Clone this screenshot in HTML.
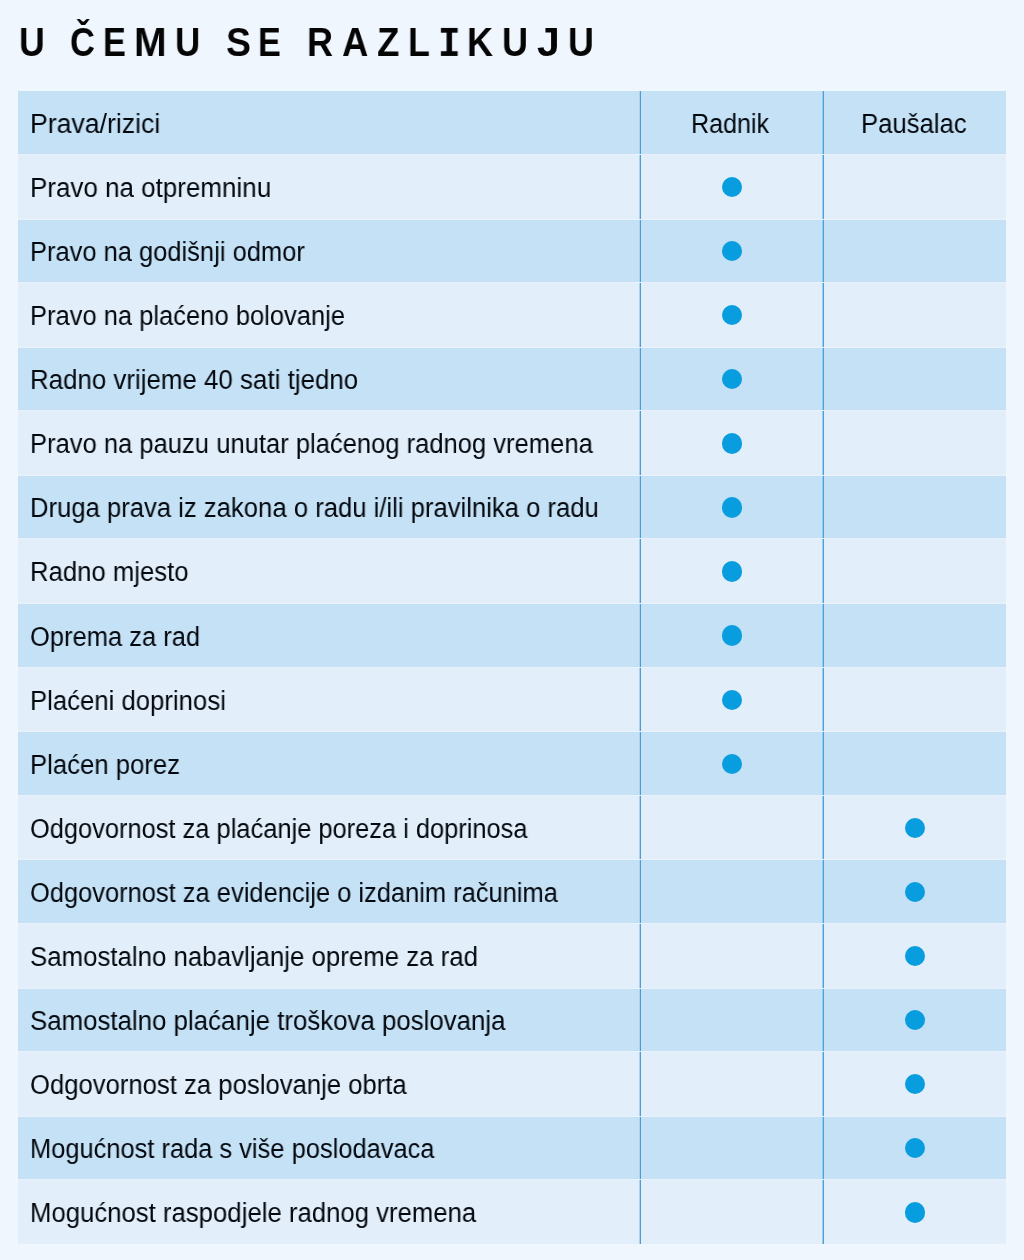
<!DOCTYPE html>
<html><head><meta charset="utf-8"><title>U čemu se razlikuju</title>
<style>
html,body{margin:0;padding:0;}
body{-webkit-font-smoothing:antialiased;width:1024px;height:1260px;overflow:hidden;position:relative;background:#f0f6fe;font-family:"Liberation Sans",sans-serif;color:#03080e;}
.t{position:absolute;will-change:transform;top:0;font-weight:bold;font-size:40.7px;line-height:1;white-space:nowrap;color:#050505;}
.r{position:absolute;left:18px;width:988px;}
.b{background:#c5e1f5;}
.l{background:#e2eef9;}
.x{position:absolute;will-change:transform;white-space:nowrap;font-size:27px;line-height:1;transform-origin:0 0;}
.d{position:absolute;width:20.5px;height:20.5px;border-radius:50%;background:#079dde;}
.v{position:absolute;background:#5ea6d3;}
</style></head><body>

<div class="t" style="left:18.55px;top:21.8px;transform:scaleX(0.876);transform-origin:0 0">U</div>
<div class="t" style="left:69.81px;top:21.8px;transform:scaleX(0.8462);transform-origin:0 0">Č</div>
<div class="t" style="left:102.97px;top:21.8px;transform:scaleX(0.8435);transform-origin:0 0">E</div>
<div class="t" style="left:134.02px;top:21.8px;transform:scaleX(0.9607);transform-origin:0 0">M</div>
<div class="t" style="left:175.48px;top:21.8px;transform:scaleX(0.86);transform-origin:0 0">U</div>
<div class="t" style="left:225.57px;top:21.8px;transform:scaleX(0.9167);transform-origin:0 0">S</div>
<div class="t" style="left:258.18px;top:21.8px;transform:scaleX(0.8391);transform-origin:0 0">E</div>
<div class="t" style="left:307.35px;top:21.8px;transform:scaleX(0.884);transform-origin:0 0">R</div>
<div class="t" style="left:341.9px;top:21.8px;transform:scaleX(0.8963);transform-origin:0 0">A</div>
<div class="t" style="left:377.4px;top:21.8px;transform:scaleX(0.9);transform-origin:0 0">Z</div>
<div class="t" style="left:407.66px;top:21.8px;transform:scaleX(0.881);transform-origin:0 0">L</div>
<div class="t" style="left:438.23px;top:23.8px;font-family:&quot;Liberation Mono&quot;,monospace;transform:scale(0.9222,1.037);transform-origin:0 0">I</div>
<div class="t" style="left:467.15px;top:21.8px;transform:scaleX(0.8846);transform-origin:0 0">K</div>
<div class="t" style="left:502.33px;top:21.8px;transform:scaleX(0.884);transform-origin:0 0">U</div>
<div class="t" style="left:536.99px;top:21.8px;transform:scaleX(1.0053);transform-origin:0 0">J</div>
<div class="t" style="left:568.44px;top:21.8px;transform:scaleX(0.88);transform-origin:0 0">U</div>
<div style="position:absolute;left:18px;width:988px;top:91px;height:1153px;background:#e9f2fb"></div>
<div class="r b" style="top:91.40px;height:62.60px"></div>
<div class="r l" style="top:155.00px;height:63.56px"></div>
<div class="r b" style="top:219.56px;height:62.60px"></div>
<div class="r l" style="top:283.16px;height:63.56px"></div>
<div class="r b" style="top:347.72px;height:62.60px"></div>
<div class="r l" style="top:411.32px;height:63.56px"></div>
<div class="r b" style="top:475.88px;height:62.60px"></div>
<div class="r l" style="top:539.48px;height:63.56px"></div>
<div class="r b" style="top:604.04px;height:62.60px"></div>
<div class="r l" style="top:667.64px;height:63.56px"></div>
<div class="r b" style="top:732.20px;height:62.60px"></div>
<div class="r l" style="top:795.80px;height:63.56px"></div>
<div class="r b" style="top:860.36px;height:62.60px"></div>
<div class="r l" style="top:923.96px;height:63.56px"></div>
<div class="r b" style="top:988.52px;height:62.60px"></div>
<div class="r l" style="top:1052.12px;height:63.56px"></div>
<div class="r b" style="top:1116.68px;height:62.60px"></div>
<div class="r l" style="top:1180.28px;height:63.56px"></div>
<div class="x" style="left:30.0px;top:111.10px;transform:scaleX(0.9869)">Prava/rizici</div>
<div class="x" style="left:30.0px;top:175.15px;transform:scaleX(0.9622)">Pravo na otpremninu</div>
<div class="x" style="left:30.0px;top:239.20px;transform:scaleX(0.9436)">Pravo na godišnji odmor</div>
<div class="x" style="left:30.0px;top:303.25px;transform:scaleX(0.9452)">Pravo na plaćeno bolovanje</div>
<div class="x" style="left:30.0px;top:367.30px;transform:scaleX(0.9587)">Radno vrijeme 40 sati tjedno</div>
<div class="x" style="left:30.0px;top:431.35px;transform:scaleX(0.9468)">Pravo na pauzu unutar plaćenog radnog vremena</div>
<div class="x" style="left:30.0px;top:495.40px;transform:scaleX(0.9499)">Druga prava iz zakona o radu i/ili pravilnika o radu</div>
<div class="x" style="left:30.0px;top:559.45px;transform:scaleX(0.9521)">Radno mjesto</div>
<div class="x" style="left:30.0px;top:623.50px;transform:scaleX(0.9449)">Oprema za rad</div>
<div class="x" style="left:30.0px;top:687.55px;transform:scaleX(0.9525)">Plaćeni doprinosi</div>
<div class="x" style="left:30.0px;top:751.60px;transform:scaleX(0.9526)">Plaćen porez</div>
<div class="x" style="left:30.0px;top:815.65px;transform:scaleX(0.9417)">Odgovornost za plaćanje poreza i doprinosa</div>
<div class="x" style="left:30.0px;top:879.70px;transform:scaleX(0.9430)">Odgovornost za evidencije o izdanim računima</div>
<div class="x" style="left:30.0px;top:943.75px;transform:scaleX(0.9567)">Samostalno nabavljanje opreme za rad</div>
<div class="x" style="left:30.0px;top:1007.80px;transform:scaleX(0.9571)">Samostalno plaćanje troškova poslovanja</div>
<div class="x" style="left:30.0px;top:1071.85px;transform:scaleX(0.9505)">Odgovornost za poslovanje obrta</div>
<div class="x" style="left:30.0px;top:1135.90px;transform:scaleX(0.9422)">Mogućnost rada s više poslodavaca</div>
<div class="x" style="left:30.0px;top:1199.95px;transform:scaleX(0.9528)">Mogućnost raspodjele radnog vremena</div>
<div class="x" style="left:691.4px;top:111.10px;transform:scaleX(0.9293)">Radnik</div>
<div class="x" style="left:861.3px;top:111.10px;transform:scaleX(0.9520)">Paušalac</div>
<div class="d" style="left:721.65px;top:176.93px;width:20.30px;height:20.30px"></div>
<div class="d" style="left:721.65px;top:241.01px;width:20.30px;height:20.30px"></div>
<div class="d" style="left:721.65px;top:305.09px;width:20.30px;height:20.30px"></div>
<div class="d" style="left:721.65px;top:369.17px;width:20.30px;height:20.30px"></div>
<div class="d" style="left:721.65px;top:433.25px;width:20.30px;height:20.30px"></div>
<div class="d" style="left:721.65px;top:497.33px;width:20.30px;height:20.30px"></div>
<div class="d" style="left:721.65px;top:561.41px;width:20.30px;height:20.30px"></div>
<div class="d" style="left:721.65px;top:625.49px;width:20.30px;height:20.30px"></div>
<div class="d" style="left:721.65px;top:689.57px;width:20.30px;height:20.30px"></div>
<div class="d" style="left:721.65px;top:753.65px;width:20.30px;height:20.30px"></div>
<div class="d" style="left:904.65px;top:817.73px;width:20.30px;height:20.30px"></div>
<div class="d" style="left:904.65px;top:881.81px;width:20.30px;height:20.30px"></div>
<div class="d" style="left:904.65px;top:945.89px;width:20.30px;height:20.30px"></div>
<div class="d" style="left:904.65px;top:1009.97px;width:20.30px;height:20.30px"></div>
<div class="d" style="left:904.65px;top:1074.05px;width:20.30px;height:20.30px"></div>
<div class="d" style="left:904.65px;top:1138.13px;width:20.30px;height:20.30px"></div>
<div class="d" style="left:904.65px;top:1202.21px;width:20.30px;height:20.30px"></div>
<div class="v" style="left:639px;width:1px;top:91.40px;height:62.60px;background:#acd2ee"></div>
<div class="v" style="left:640px;width:1px;top:91.40px;height:62.60px;background:#4f9cd0"></div>
<div class="v" style="left:822px;width:1px;top:91.40px;height:62.60px;background:#97cff0"></div>
<div class="v" style="left:823px;width:1px;top:91.40px;height:62.60px;background:#509fd3"></div>
<div class="v" style="left:639px;width:1px;top:155.00px;height:63.56px;background:#acd2ee"></div>
<div class="v" style="left:640px;width:1px;top:155.00px;height:63.56px;background:#4f9cd0"></div>
<div class="v" style="left:822px;width:1px;top:155.00px;height:63.56px;background:#97cff0"></div>
<div class="v" style="left:823px;width:1px;top:155.00px;height:63.56px;background:#509fd3"></div>
<div class="v" style="left:639px;width:1px;top:219.56px;height:62.60px;background:#acd2ee"></div>
<div class="v" style="left:640px;width:1px;top:219.56px;height:62.60px;background:#4f9cd0"></div>
<div class="v" style="left:822px;width:1px;top:219.56px;height:62.60px;background:#97cff0"></div>
<div class="v" style="left:823px;width:1px;top:219.56px;height:62.60px;background:#509fd3"></div>
<div class="v" style="left:639px;width:1px;top:283.16px;height:63.56px;background:#acd2ee"></div>
<div class="v" style="left:640px;width:1px;top:283.16px;height:63.56px;background:#4f9cd0"></div>
<div class="v" style="left:822px;width:1px;top:283.16px;height:63.56px;background:#97cff0"></div>
<div class="v" style="left:823px;width:1px;top:283.16px;height:63.56px;background:#509fd3"></div>
<div class="v" style="left:639px;width:1px;top:347.72px;height:62.60px;background:#acd2ee"></div>
<div class="v" style="left:640px;width:1px;top:347.72px;height:62.60px;background:#4f9cd0"></div>
<div class="v" style="left:822px;width:1px;top:347.72px;height:62.60px;background:#97cff0"></div>
<div class="v" style="left:823px;width:1px;top:347.72px;height:62.60px;background:#509fd3"></div>
<div class="v" style="left:639px;width:1px;top:411.32px;height:63.56px;background:#acd2ee"></div>
<div class="v" style="left:640px;width:1px;top:411.32px;height:63.56px;background:#4f9cd0"></div>
<div class="v" style="left:822px;width:1px;top:411.32px;height:63.56px;background:#97cff0"></div>
<div class="v" style="left:823px;width:1px;top:411.32px;height:63.56px;background:#509fd3"></div>
<div class="v" style="left:639px;width:1px;top:475.88px;height:62.60px;background:#acd2ee"></div>
<div class="v" style="left:640px;width:1px;top:475.88px;height:62.60px;background:#4f9cd0"></div>
<div class="v" style="left:822px;width:1px;top:475.88px;height:62.60px;background:#97cff0"></div>
<div class="v" style="left:823px;width:1px;top:475.88px;height:62.60px;background:#509fd3"></div>
<div class="v" style="left:639px;width:1px;top:539.48px;height:63.56px;background:#acd2ee"></div>
<div class="v" style="left:640px;width:1px;top:539.48px;height:63.56px;background:#4f9cd0"></div>
<div class="v" style="left:822px;width:1px;top:539.48px;height:63.56px;background:#97cff0"></div>
<div class="v" style="left:823px;width:1px;top:539.48px;height:63.56px;background:#509fd3"></div>
<div class="v" style="left:639px;width:1px;top:604.04px;height:62.60px;background:#acd2ee"></div>
<div class="v" style="left:640px;width:1px;top:604.04px;height:62.60px;background:#4f9cd0"></div>
<div class="v" style="left:822px;width:1px;top:604.04px;height:62.60px;background:#97cff0"></div>
<div class="v" style="left:823px;width:1px;top:604.04px;height:62.60px;background:#509fd3"></div>
<div class="v" style="left:639px;width:1px;top:667.64px;height:63.56px;background:#acd2ee"></div>
<div class="v" style="left:640px;width:1px;top:667.64px;height:63.56px;background:#4f9cd0"></div>
<div class="v" style="left:822px;width:1px;top:667.64px;height:63.56px;background:#97cff0"></div>
<div class="v" style="left:823px;width:1px;top:667.64px;height:63.56px;background:#509fd3"></div>
<div class="v" style="left:639px;width:1px;top:732.20px;height:62.60px;background:#acd2ee"></div>
<div class="v" style="left:640px;width:1px;top:732.20px;height:62.60px;background:#4f9cd0"></div>
<div class="v" style="left:822px;width:1px;top:732.20px;height:62.60px;background:#97cff0"></div>
<div class="v" style="left:823px;width:1px;top:732.20px;height:62.60px;background:#509fd3"></div>
<div class="v" style="left:639px;width:1px;top:795.80px;height:63.56px;background:#acd2ee"></div>
<div class="v" style="left:640px;width:1px;top:795.80px;height:63.56px;background:#4f9cd0"></div>
<div class="v" style="left:822px;width:1px;top:795.80px;height:63.56px;background:#97cff0"></div>
<div class="v" style="left:823px;width:1px;top:795.80px;height:63.56px;background:#509fd3"></div>
<div class="v" style="left:639px;width:1px;top:860.36px;height:62.60px;background:#acd2ee"></div>
<div class="v" style="left:640px;width:1px;top:860.36px;height:62.60px;background:#4f9cd0"></div>
<div class="v" style="left:822px;width:1px;top:860.36px;height:62.60px;background:#97cff0"></div>
<div class="v" style="left:823px;width:1px;top:860.36px;height:62.60px;background:#509fd3"></div>
<div class="v" style="left:639px;width:1px;top:923.96px;height:63.56px;background:#acd2ee"></div>
<div class="v" style="left:640px;width:1px;top:923.96px;height:63.56px;background:#4f9cd0"></div>
<div class="v" style="left:822px;width:1px;top:923.96px;height:63.56px;background:#97cff0"></div>
<div class="v" style="left:823px;width:1px;top:923.96px;height:63.56px;background:#509fd3"></div>
<div class="v" style="left:639px;width:1px;top:988.52px;height:62.60px;background:#acd2ee"></div>
<div class="v" style="left:640px;width:1px;top:988.52px;height:62.60px;background:#4f9cd0"></div>
<div class="v" style="left:822px;width:1px;top:988.52px;height:62.60px;background:#97cff0"></div>
<div class="v" style="left:823px;width:1px;top:988.52px;height:62.60px;background:#509fd3"></div>
<div class="v" style="left:639px;width:1px;top:1052.12px;height:63.56px;background:#acd2ee"></div>
<div class="v" style="left:640px;width:1px;top:1052.12px;height:63.56px;background:#4f9cd0"></div>
<div class="v" style="left:822px;width:1px;top:1052.12px;height:63.56px;background:#97cff0"></div>
<div class="v" style="left:823px;width:1px;top:1052.12px;height:63.56px;background:#509fd3"></div>
<div class="v" style="left:639px;width:1px;top:1116.68px;height:62.60px;background:#acd2ee"></div>
<div class="v" style="left:640px;width:1px;top:1116.68px;height:62.60px;background:#4f9cd0"></div>
<div class="v" style="left:822px;width:1px;top:1116.68px;height:62.60px;background:#97cff0"></div>
<div class="v" style="left:823px;width:1px;top:1116.68px;height:62.60px;background:#509fd3"></div>
<div class="v" style="left:639px;width:1px;top:1180.28px;height:63.56px;background:#acd2ee"></div>
<div class="v" style="left:640px;width:1px;top:1180.28px;height:63.56px;background:#4f9cd0"></div>
<div class="v" style="left:822px;width:1px;top:1180.28px;height:63.56px;background:#97cff0"></div>
<div class="v" style="left:823px;width:1px;top:1180.28px;height:63.56px;background:#509fd3"></div>
</body></html>
